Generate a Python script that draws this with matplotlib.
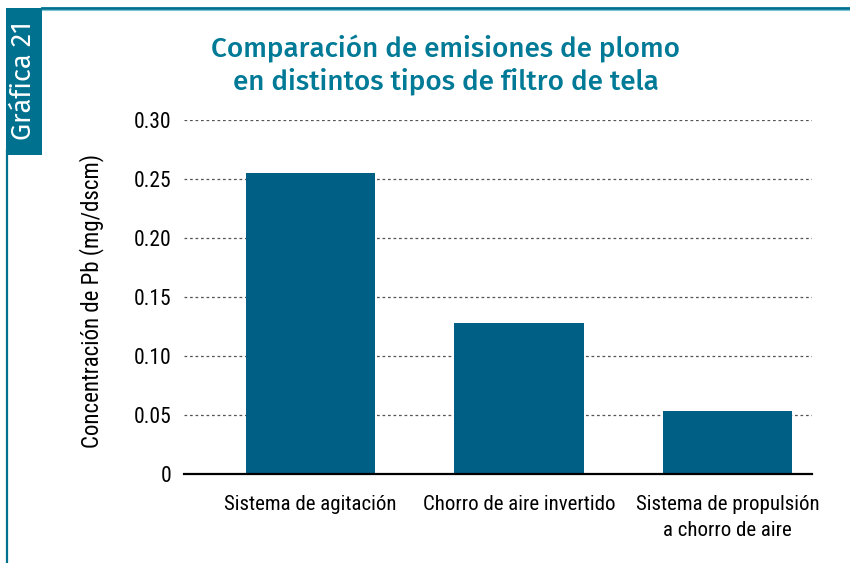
import matplotlib
matplotlib.use("Agg")
import matplotlib.pyplot as plt
from matplotlib.patches import Rectangle
from matplotlib.lines import Line2D

TEAL = "#00718f"
TITLE = "#007a96"
BAR = "#005f85"
NARROW = ["Roboto Condensed", "DejaVu Sans"]
FIRA = ["Fira Sans", "DejaVu Sans"]

categories = ["Sistema de agitación", "Chorro de aire invertido",
              "Sistema de propulsión\na chorro de aire"]
values = [0.255, 0.128, 0.053]
yticks = [0, 0.05, 0.10, 0.15, 0.20, 0.25, 0.30]
ytick_labels = ["0", "0.05", "0.10", "0.15", "0.20", "0.25", "0.30"]

fig = plt.figure(figsize=(8.5, 5.63), dpi=100)
W, H = 850, 563

# frame: top line, left line, label tab
fig.add_artist(Line2D([42 / W, 1], [1 - 8 / H] * 2, color=TEAL, lw=2.0))
fig.add_artist(Line2D([42 / W, 1], [1 - 9.5 / H] * 2, color="#7fc3d6", lw=0.8))
fig.add_artist(Line2D([6.7 / W] * 2, [0, 1 - 150 / H], color=TEAL, lw=1.6))
fig.add_artist(Rectangle((6 / W, 1 - 155 / H), 36 / W, 147 / H,
                         transform=fig.transFigure, facecolor=TEAL, edgecolor="none"))
fig.text(23 / W, 1 - 81 / H, "Gráfica 21", rotation=90, ha="center", va="center",
         color="white", fontsize=19.5, fontweight="normal", family=FIRA)

fig.text(446 / W, 1 - 65 / H, "Comparación de emisiones de plomo\nen distintos tipos de filtro de tela",
         ha="center", va="center", color=TITLE, fontsize=20, fontweight="medium",
         family=FIRA, linespacing=1.22)

ax = fig.add_axes([184 / W, 1 - 474 / H, (812 - 184) / W, (474 - 120) / H])
x = list(range(len(categories)))
ax.bar(x, values, width=0.62, color=BAR, zorder=2)
ax.set_xlim(-0.607, 2.405)
ax.set_ylim(0, 0.30)
ax.set_yticks(yticks)
ax.set_yticklabels(ytick_labels, family=NARROW, fontsize=15.5)
ax.set_xticks(x)
ax.set_xticklabels(categories, family=NARROW, fontsize=15, linespacing=1.45)
ax.tick_params(axis="y", length=0, pad=9)
ax.tick_params(axis="x", length=0, pad=15)
for yv in yticks[1:]:
    ax.axhline(yv, color="#555555", lw=0.9, ls=(0, (2.2, 2.2)), zorder=1)
for s in ["top", "right", "left"]:
    ax.spines[s].set_visible(False)
ax.spines["bottom"].set_linewidth(1.6)
ax.spines["bottom"].set_zorder(3)
ax.set_ylabel("Concentración de Pb (mg/dscm)", family=NARROW, fontsize=16.5)
ax.yaxis.set_label_coords(-0.127, 0.49)
ax.patch.set_alpha(0)

fig.savefig("out.png", dpi=100)
